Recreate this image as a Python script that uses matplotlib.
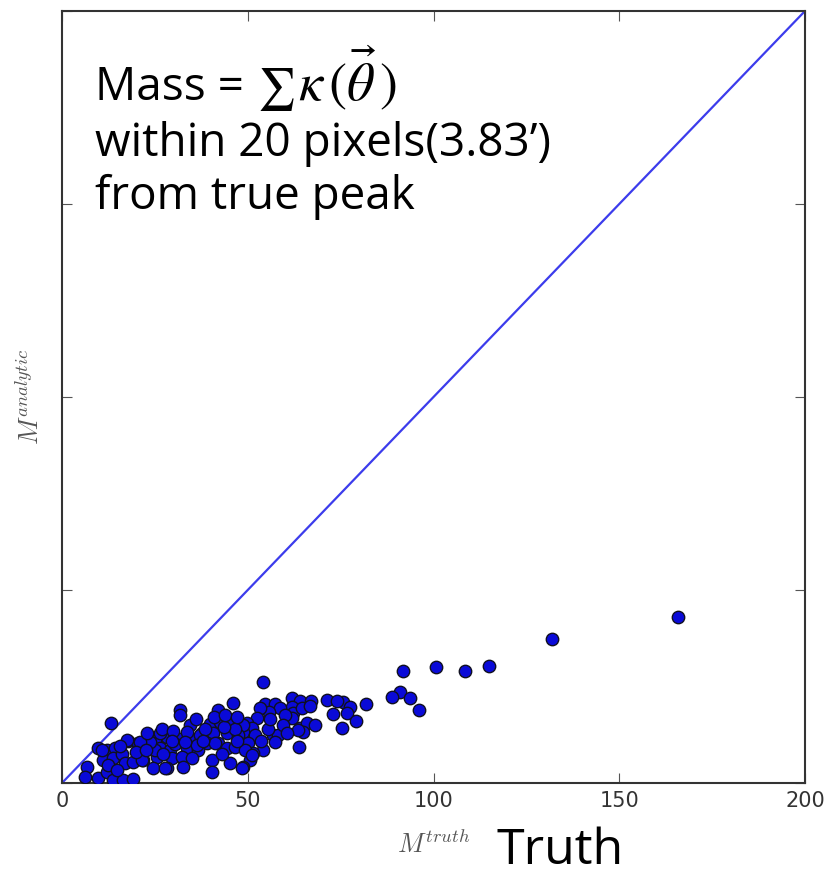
import matplotlib
matplotlib.use("Agg")
import matplotlib.pyplot as plt

plt.rcParams['mathtext.fontset'] = 'cm'

# Data (M_truth, M_analytic)
m_truth = [
    165.7, 131.8, 114.9, 108.5, 100.7, 91.7, 91.0, 88.7, 93.7, 96.2, 81.8, 75.7, 77.5, 76.8, 79.1, 75.3,
    54.0, 61.8, 64.1, 67.0, 71.4, 73.9, 72.9, 61.8, 62.3, 64.5, 66.8, 64.1, 65.9, 68.1, 65.0, 63.9,
    54.6, 57.3, 58.7, 55.8, 53.3, 52.4, 49.7, 51.1, 48.8, 52.0, 50.2, 56.9, 58.2, 57.3, 54.2, 51.5,
    50.6, 48.8, 61.8, 63.6, 60.0,
    45.9, 31.8, 31.8, 42.1, 34.5, 39.8, 42.5, 45.7, 48.8, 37.6, 40.7, 44.3, 47.5, 25.0, 28.2, 31.8,
    35.3, 39.0, 42.1, 26.4, 29.1, 33.6, 36.7, 25.5, 29.5, 32.2, 34.9, 40.3, 45.2, 48.4, 28.2, 32.7,
    40.3, 25.0, 26.4, 33.6, 37.1, 44.3, 46.6, 49.3, 36.3, 41.2, 27.3, 24.6, 27.7, 51.1, 46.5, 43.5,
    38.5, 30.5,
    13.2, 9.8, 12.0, 14.3, 17.9, 20.5, 23.7, 11.1, 13.8, 16.1, 17.0, 19.2, 21.9, 6.6, 6.2, 9.8,
    12.0, 13.8, 16.5, 19.2, 12.5, 17.4, 21.0, 21.5, 14.7, 10.7,
    23.0, 27.0, 30.0, 36.0, 41.0, 44.0, 47.0, 38.0, 29.5, 33.0, 43.0, 47.0, 55.5, 53.5, 56.0, 59.5,
    60.5, 20.0, 22.5, 15.5,
]
m_analytic = [
    42.9, 37.2, 30.3, 29.0, 30.0, 29.0, 23.7, 22.4, 22.1, 18.9, 20.4, 21.1, 19.6, 18.2, 16.1, 14.2,
    26.1, 22.1, 21.2, 21.3, 21.5, 21.2, 17.9, 19.8, 18.1, 19.4, 20.0, 14.2, 15.5, 15.0, 13.3, 9.4,
    20.4, 20.4, 19.4, 18.5, 19.4, 16.8, 15.5, 14.2, 13.3, 12.4, 10.3, 12.4, 12.4, 10.7, 8.5, 7.7,
    6.0, 4.2, 16.8, 13.7, 17.5,
    20.8, 18.9, 17.6, 18.9, 15.0, 15.4, 15.9, 15.4, 15.0, 12.9, 12.9, 12.9, 12.4, 11.1, 12.0, 11.5,
    11.1, 10.3, 10.3, 9.0, 8.5, 9.0, 8.5, 6.8, 6.4, 6.8, 6.4, 6.0, 5.1, 3.8, 3.8, 4.2,
    2.9, 8.5, 12.9, 13.3, 12.4, 9.0, 9.4, 8.5, 9.8, 10.3, 7.6, 3.8, 3.8, 7.3, 14.0, 14.5,
    14.0, 10.0,
    15.6, 9.0, 8.5, 9.0, 11.0, 10.3, 10.7, 6.0, 6.4, 7.6, 5.1, 5.5, 6.0, 4.2, 1.6, 1.2,
    2.9, 0.8, 0.8, 1.0, 4.7, 11.1, 10.7, 6.0, 3.4, 8.5,
    13.0, 14.0, 13.5, 16.5, 17.0, 17.5, 17.0, 11.0, 11.0, 10.5, 7.5, 11.0, 14.0, 11.0, 16.5, 15.0,
    13.0, 8.0, 8.5, 9.5,
]
diag = [0, 200]
x_ticks = [0, 50, 100, 150, 200]
x_ticklabels = ["0", "50", "100", "150", "200"]
y_ticks = [0, 50, 100, 150, 200]

W, H = 827, 875
fig = plt.figure(figsize=(W / 100, H / 100), dpi=100)
ax = fig.add_axes([62 / W, 1 - 783 / H, (805 - 62) / W, (783 - 11) / H])

ax.plot(diag, diag, color='#3c3cec', lw=1.6, zorder=2)
ax.scatter(m_truth, m_analytic, s=80, c='#0a0ad8', edgecolors='#101020', linewidths=1.0, zorder=3)

ax.set_xlim(0, 200)
ax.set_ylim(0, 200)
ax.set_xticks(x_ticks)
ax.set_xticklabels(x_ticklabels)
ax.set_yticks(y_ticks)
ax.tick_params(direction='in', length=7, width=0.8, color='#555555',
               top=True, right=True, labelleft=False, labelsize=15,
               labelcolor='#333333', pad=6)
for s in ax.spines.values():
    s.set_color('#333333')
    s.set_linewidth(1.5)

ax.set_xlabel(r"$M^{truth}$", fontsize=19, color='#555555', labelpad=14)
ax.set_ylabel(r"$M^{analytic}$", fontsize=19, color='#555555', labelpad=12)

fam = ['Open Sans', 'DejaVu Sans']
fig.text(95 / W, 1 - 100 / H, "Mass =", ha='left', va='baseline',
         family=fam, color='black', fontsize=33)
fig.text(258 / W, 1 - 100 / H, "\u2211", ha='left', va='baseline',
         family=['STIXGeneral', 'DejaVu Serif'], color='black', fontsize=30)
fig.text(298 / W, 1 - 100 / H, r"$\kappa\,(\vec{\theta}\,)$", ha='left', va='baseline',
         color='black', fontsize=39, math_fontfamily='stix')
fig.text(95 / W, 1 - 156 / H, "within 20 pixels(3.83\u2019)", ha='left', va='baseline',
         family=fam, color='black', fontsize=33)
fig.text(95 / W, 1 - 209 / H, "from true peak", ha='left', va='baseline',
         family=fam, color='black', fontsize=33)
fig.text(497 / W, 1 - 864 / H, "Truth", ha='left', va='baseline',
         family=fam, color='black', fontsize=36)

fig.savefig("out.png", dpi=100)
